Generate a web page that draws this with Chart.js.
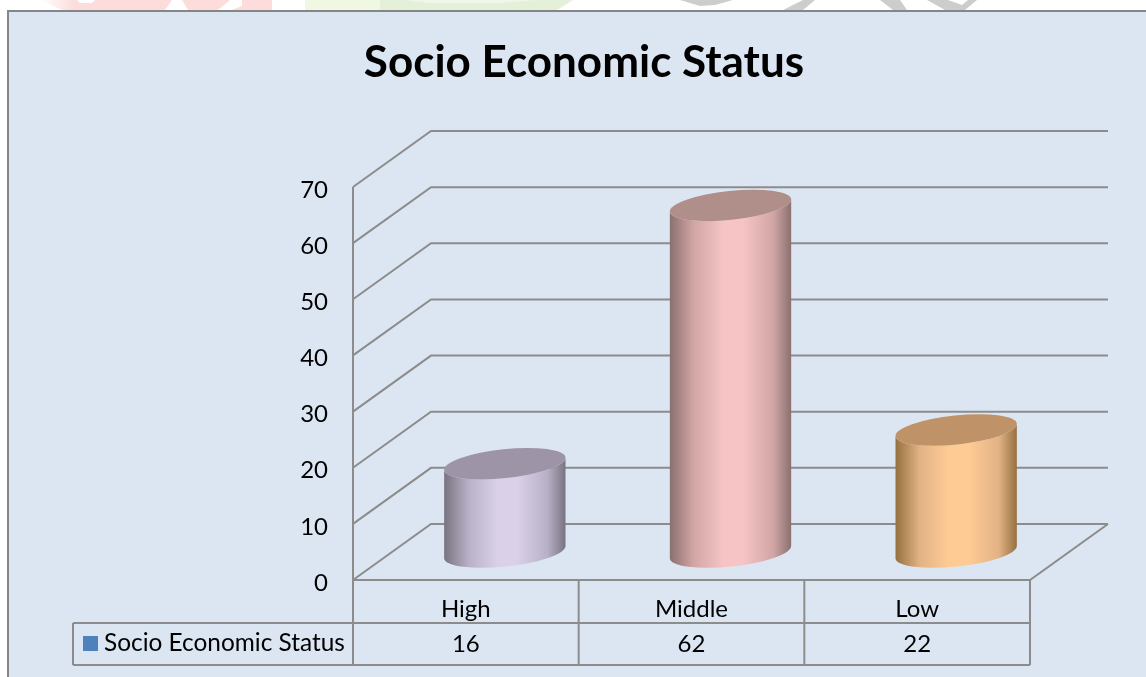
<!DOCTYPE html>
<html><head><meta charset="utf-8">
<script src="https://cdn.jsdelivr.net/npm/chart.js@4"></script>
<style>html,body{margin:0;padding:0;background:#fff}#w{width:1146px;height:677px;overflow:hidden}canvas{display:block}</style>
</head><body><div id="w"><canvas id="c" width="1146" height="677"></canvas></div>
<script>
const titleText = 'Socio Economic Status';
const categories = ['High', 'Middle', 'Low'];
const seriesName = 'Socio Economic Status';
const seriesValues = [16, 62, 22];
const yTickMax = 70, yTickStep = 10;
const faceLight = ['#DAD1E9', '#F6C4C4', '#FFCB95'];
const faceMid = ['#B7B0C6', '#D2A6A6', '#E2B285'];
const faceDark = ['#77727F', '#8A6F6F', '#94703F'];
const capColor = ['#9E94A8', '#B08F8B', '#BF9267'];
const FONT = 'Lato, "Open Sans", sans-serif';
const LINE = '#8C8C8C', BG = '#DCE6F2';
const DX = 78, DY = 56, TROW1 = 623, TROW2 = 665, TLEFT = 73;

function shape(c, color, pts) {
  c.fillStyle = color; c.beginPath();
  pts.forEach((p, i) => i ? c.lineTo(p[0], p[1]) : c.moveTo(p[0], p[1]));
  c.closePath(); c.fill();
}

const scene = {
  id: 'scene',
  beforeDraw(ch) {
    const c = ch.ctx;
    c.save();
    c.fillStyle = '#fff'; c.fillRect(0, 0, 1146, 677);
    // faint page watermark showing above the chart frame
    const fade = c.createLinearGradient(40, 0, 75, 0);
    fade.addColorStop(0, '#FFFFFF'); fade.addColorStop(1, '#FDDCDC');
    shape(c, fade, [[40,0],[272,0],[272,10],[62,10]]);
    shape(c, '#FFFFFF', [[77,0],[95,0],[92,3],[80,3]]);
    shape(c, '#FFFFFF', [[172,0],[182,0],[188,10],[165,10]]);
    shape(c, '#FFFFFF', [[230,0],[242,0],[242,6],[232,10],[218,10]]);
    shape(c, '#EEF8E2', [[305,0],[382,0],[382,10],[305,10]]);
    shape(c, '#E5F0D8', [[380,0],[573,0],[557,10],[380,10]]);
    shape(c, '#F1F6EA', [[405,0],[535,0],[500,3],[430,3]]);
    shape(c, '#CDCDCD', [[680,0],[733,0],[715,5],[700,6]]);
    shape(c, '#CDCDCD', [[803,0],[815,0],[803,10],[783,10]]);
    shape(c, '#CDCDCD', [[880,0],[900,0],[907,10],[893,10]]);
    shape(c, '#CDCDCD', [[927,0],[948,0],[962,5],[968,0],[977,0],[965,10],[945,10]]);
    c.fillStyle = BG; c.fillRect(7, 10, 1139, 667);
    c.strokeStyle = '#868686'; c.lineWidth = 2;
    c.beginPath(); c.moveTo(8, 677); c.lineTo(8, 11); c.lineTo(1146, 11); c.stroke();
    c.restore();
  },
  beforeDatasetsDraw(ch) {
    const c = ch.ctx, y = ch.scales.y, a = ch.chartArea;
    c.save(); c.strokeStyle = LINE; c.lineWidth = 2;
    c.beginPath();
    y.ticks.forEach(t => {
      const p = y.getPixelForValue(t.value);
      c.moveTo(a.left, p); c.lineTo(a.left + DX, p - DY); c.lineTo(a.right + DX, p - DY);
    });
    const p0 = y.getPixelForValue(0);
    c.moveTo(a.left, p0); c.lineTo(a.right, p0); c.lineTo(a.right + DX, p0 - DY);
    c.moveTo(a.left, y.getPixelForValue(yTickMax)); c.lineTo(a.left, TROW2);
    c.stroke(); c.restore();
  },
  afterDatasetsDraw(ch) {
    const c = ch.ctx, meta = ch.getDatasetMeta(0), base = ch.scales.y.getPixelForValue(0);
    meta.data.forEach((b, i) => {
      const cx = b.x + DX / 2, top = b.y - DY / 2 + 1.5, bot = base - DY / 2;
      const rx = b.width / 2, ry = 14.5, rot = -6 * Math.PI / 180;
      const g = c.createLinearGradient(cx - rx, 0, cx + rx, 0);
      g.addColorStop(0, faceDark[i]); g.addColorStop(0.2, faceMid[i]);
      g.addColorStop(0.44, faceLight[i]); g.addColorStop(0.6, faceLight[i]);
      g.addColorStop(0.85, faceMid[i]); g.addColorStop(1, faceDark[i]);
      c.save();
      c.fillStyle = g; c.beginPath();
      c.ellipse(cx, bot, rx, ry, rot, 0, Math.PI);
      c.ellipse(cx, top, rx, ry, rot, Math.PI, 0, true);
      c.closePath(); c.fill();
      c.fillStyle = capColor[i]; c.beginPath();
      c.ellipse(cx, top, rx, ry, rot, 0, 2 * Math.PI); c.fill();
      c.restore();
    });
  },
  afterDraw(ch) {
    const c = ch.ctx, x = ch.scales.x, a = ch.chartArea;
    const edges = categories.map((_, i) => a.left + (a.right - a.left) * i / categories.length);
    edges.push(a.right);
    c.save(); c.strokeStyle = LINE; c.lineWidth = 2; c.beginPath();
    edges.forEach(e => { c.moveTo(e, a.bottom); c.lineTo(e, TROW2); });
    c.moveTo(TLEFT, TROW1); c.lineTo(a.right, TROW1);
    c.moveTo(TLEFT, TROW2); c.lineTo(a.right, TROW2);
    c.moveTo(TLEFT, TROW1); c.lineTo(TLEFT, TROW2);
    c.stroke();
    c.fillStyle = '#4F81BD'; c.fillRect(83, 636, 15, 15);
    c.fillStyle = '#000'; c.font = '24.4px ' + FONT; c.textBaseline = 'middle';
    c.textAlign = 'left'; c.fillText(seriesName, 104, 643);
    c.font = '24px ' + FONT; c.textAlign = 'center';
    seriesValues.forEach((v, i) => c.fillText(String(v), x.getPixelForValue(i), 644));
    c.restore();
  }
};

new Chart(document.getElementById('c'), {
  type: 'bar',
  data: { labels: categories, datasets: [{ label: seriesName, data: seriesValues, backgroundColor: 'transparent', borderWidth: 0, barThickness: 122 }] },
  plugins: [scene],
  options: {
    responsive: false, animation: false,
    layout: { padding: { left: 138, right: 116, top: 0, bottom: 0 } },
    plugins: {
      legend: { display: false }, tooltip: { enabled: false },
      title: { display: true, text: titleText, color: '#000', font: { family: FONT, size: 44, weight: 'bold', lineHeight: 1.2 }, padding: { top: 36, bottom: 98.2 } }
    },
    scales: {
      x: { grid: { display: false, drawTicks: false }, border: { display: false },
           ticks: { color: '#000', font: { family: FONT, size: 24 }, padding: 15, maxRotation: 0 },
           afterFit(s) { s.height = 97; } },
      y: { min: 0, max: yTickMax, grid: { display: false, drawTicks: false }, border: { display: false },
           ticks: { stepSize: yTickStep, color: '#000', font: { family: FONT, size: 24 }, padding: 25, labelOffset: 3 },
           afterFit(s) { s.width = 215; } }
    }
  }
});
</script></body></html>
